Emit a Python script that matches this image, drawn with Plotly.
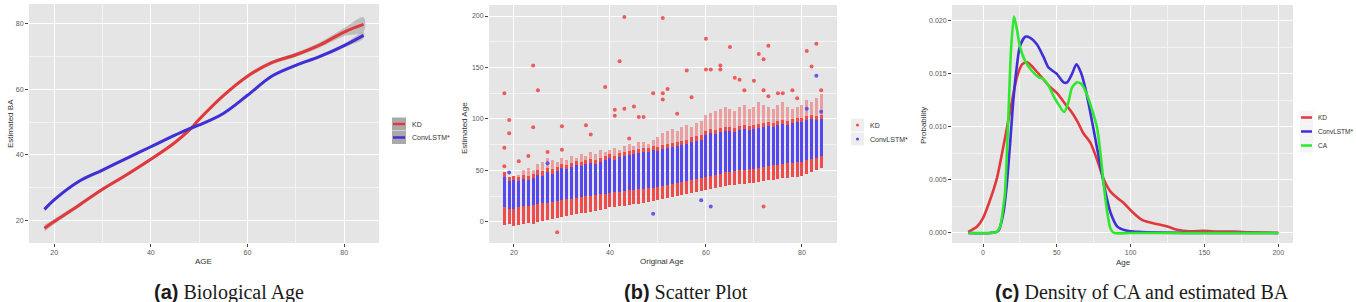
import plotly.graph_objects as go

W, H = 1356, 302

# ---------------- Panel (a): Biological Age (smoothed curves) ----------------
a_age = [18, 20, 25, 30, 35, 40, 45, 48, 50, 55, 60, 65, 70, 75, 80, 84]
a_kd = [17.8, 19.8, 24.6, 29.6, 34.0, 38.7, 43.8, 47.6, 50.8, 58.0, 63.9, 68.0, 70.4, 73.4, 77.3, 79.6]
a_kd_se = [1.0, 0.8, 0.6, 0.5, 0.5, 0.5, 0.5, 0.5, 0.5, 0.5, 0.6, 0.6, 0.7, 0.8, 1.2, 2.2]
a_conv = [23.5, 26.4, 31.9, 35.4, 39.0, 42.5, 46.0, 48.0, 49.1, 52.6, 58.1, 63.9, 67.2, 69.9, 73.2, 76.3]
a_conv_se = [0.6, 0.5, 0.4, 0.4, 0.4, 0.4, 0.4, 0.4, 0.4, 0.4, 0.4, 0.4, 0.4, 0.5, 0.6, 0.9]

# ---------------- Panel (b): Scatter plot (dense columns per age) ----------------
b_age = list(range(18, 85))
b_blue_lo = [14, 13, 13, 14, 15, 15, 16, 17, 18, 18, 19, 20, 21, 22, 22, 23, 24, 25, 25, 26, 27, 27,
             28, 29, 29, 30, 31, 31, 32, 32, 33, 33, 34, 35, 36, 37, 38, 39, 40, 41, 42, 43, 44, 45,
             46, 47, 48, 48, 49, 50, 50, 51, 51, 52, 53, 54, 55, 55, 56, 57, 57, 58, 58, 60, 61, 62, 64]
b_blue_hi = [44, 40, 41, 40, 42, 41, 43, 46, 45, 48, 47, 49, 52, 51, 53, 55, 54, 56, 57, 56, 58, 60,
             62, 60, 63, 64, 65, 66, 67, 68, 68, 70, 69, 71, 72, 73, 74, 75, 76, 78, 79, 80, 84, 86,
             85, 87, 88, 88, 87, 89, 90, 89, 90, 91, 92, 93, 92, 94, 95, 94, 96, 97, 97, 99, 100, 99, 100]
b_red_lo = [-3, -2, -4, -3, -2, -1, -2, 0, 1, 2, 3, 4, 5, 6, 7, 8, 9, 9, 10, 11, 12, 13,
            14, 14, 15, 15, 16, 17, 17, 18, 19, 20, 21, 22, 23, 24, 25, 26, 27, 28, 29, 30, 31, 32,
            33, 34, 35, 36, 36, 37, 37, 38, 38, 39, 40, 41, 41, 42, 43, 43, 44, 44, 45, 47, 48, 50, 52]
b_red_hi = [48, 42, 44, 46, 50, 52, 50, 56, 58, 62, 60, 58, 62, 60, 64, 62, 66, 64, 68, 66, 70, 68,
            70, 72, 70, 74, 76, 74, 78, 78, 76, 80, 82, 86, 88, 90, 88, 92, 94, 92, 96, 98, 104, 106,
            108, 110, 112, 110, 108, 112, 114, 110, 112, 116, 114, 112, 110, 114, 116, 112, 110, 112, 114, 118, 116, 120, 124]
b_red_out_x = [18, 19, 19, 18, 24, 25, 24, 30, 35, 36, 39, 42, 43, 51, 41, 41, 43, 45, 46, 47, 44, 49,
               51, 51, 52, 54, 56, 57, 60, 60, 61, 63, 63, 65, 66, 67, 68, 70, 71, 72, 73, 72, 73, 75,
               76, 78, 79, 81, 82, 83, 84, 29, 72, 18, 21, 23, 27, 30]
b_red_out_y = [125, 99, 86, 72, 152, 128, 92, 93, 94, 85, 131, 156, 199, 198, 109, 103, 110, 112, 102, 102, 81, 125,
               119, 125, 129, 105, 147, 121, 178, 148, 148, 152, 148, 170, 140, 138, 128, 137, 163, 158, 171, 128, 122, 125,
               125, 128, 120, 166, 151, 173, 128, -10, 15, 54, 59, 64, 68, 70]
b_blue_out_x = [49, 59, 61, 83, 84, 81, 19, 27]
b_blue_out_y = [8, 21, 15, 142, 107, 110, 48, 57]

# ---------------- Panel (c): Density of CA and estimated BA ----------------
c_kd_x = [-10, -4, 0, 4, 9.5, 14, 18.5, 23, 26.5, 30, 34, 39, 44.5, 50, 56, 60, 64, 68, 72.8, 77.3,
          82, 86.4, 91, 95.5, 101, 108, 116, 125, 131.5, 140, 150, 158.6, 170, 181, 200]
c_kd_y = [0.0001, 0.0006, 0.0014, 0.0028, 0.0052, 0.0083, 0.0116, 0.0147, 0.0159, 0.0161, 0.0156, 0.0148,
          0.0139, 0.0132, 0.0121, 0.0114, 0.0105, 0.0094, 0.0085, 0.0069, 0.0050, 0.0039, 0.0033, 0.0028,
          0.0020, 0.0012, 0.0009, 0.0006, 0.0003, 0.00016, 0.0002, 0.00013, 0.00012, 0.00006, 0.0]
c_conv_x = [-10, 5, 10.4, 13.8, 16, 18.4, 20.6, 23, 25, 28.6, 32, 36.5, 41, 44.4, 50, 54.6, 57, 60.3,
            63.3, 66.4, 69.4, 72.8, 76.2, 79.6, 83, 86.4, 91, 97.7, 105, 120, 150, 200]
c_conv_y = [0, 0, 0.0002, 0.0019, 0.0044, 0.0085, 0.0126, 0.0158, 0.0176, 0.0185, 0.0184, 0.0178, 0.0166,
            0.0156, 0.0150, 0.0142, 0.0142, 0.0150, 0.0159, 0.0151, 0.0136, 0.0113, 0.0088, 0.0063, 0.0038,
            0.0019, 0.0006, 0.0002, 0.0001, 0.00003, 0, 0]
c_ca_x = [-10, 5, 9.3, 11.6, 13.8, 14.9, 17.2, 19, 21, 23, 25, 28.6, 33, 37.6, 41, 44.4, 47.8, 51.2, 55,
          57.8, 60.3, 63.7, 67, 70.5, 73.9, 77.3, 79.6, 81.9, 84.2, 86.4, 88.7, 100, 150, 200]
c_ca_y = [0, 0, 0.0001, 0.0006, 0.0025, 0.0038, 0.0110, 0.0173, 0.0204, 0.0192, 0.0176, 0.0162, 0.0153,
          0.0147, 0.0145, 0.0139, 0.0129, 0.0121, 0.0114, 0.0123, 0.0137, 0.0142, 0.0140, 0.0130, 0.0116,
          0.0099, 0.0075, 0.0044, 0.0019, 0.0004, 0.0, 0, 0, 0]

series_names = ["KD", "ConvLSTM*", "CA"]

RED = "#E2383C"
BLUE = "#3F2FD6"
GREEN = "#2EE82E"
PT_RED = "#EE4B4B"
PT_BLUE = "#5548EE"
BAND = "rgba(140,140,140,0.45)"


def px(x):
    return x / W


def py(y):
    return 1 - y / H


fig = go.Figure()

# ----- panel (a)
for ys, se, col, name in [(a_kd, a_kd_se, RED, series_names[0]), (a_conv, a_conv_se, BLUE, series_names[1])]:
    upper = [v + s for v, s in zip(ys, se)]
    lower = [v - s for v, s in zip(ys, se)]
    fig.add_trace(go.Scatter(x=a_age + a_age[::-1], y=upper + lower[::-1], fill="toself",
                             fillcolor=BAND, line=dict(width=0, shape="spline"), mode="lines",
                             hoverinfo="skip", showlegend=False, xaxis="x", yaxis="y"))
for ys, col, name in [(a_kd, RED, series_names[0]), (a_conv, BLUE, series_names[1])]:
    fig.add_trace(go.Scatter(x=a_age, y=ys, mode="lines", name=name,
                             line=dict(color=col, width=3, shape="spline", smoothing=1.0),
                             showlegend=False, xaxis="x", yaxis="y"))

# ----- panel (b)
red_dense_hi = [max(bh + 4, rl) for bh, rl in zip(b_blue_hi, b_red_lo)]
fig.add_trace(go.Bar(x=b_age, base=b_red_lo, y=[h - l for h, l in zip(red_dense_hi, b_red_lo)],
                     width=0.62, marker=dict(color=PT_RED, line=dict(width=0)), showlegend=False,
                     name="KD", xaxis="x2", yaxis="y2"))
fig.add_trace(go.Bar(x=b_age, base=red_dense_hi, y=[max(h - l, 0) for h, l in zip(b_red_hi, red_dense_hi)],
                     width=0.62, marker=dict(color=PT_RED, line=dict(width=0)), opacity=0.45,
                     showlegend=False, name="KD", xaxis="x2", yaxis="y2"))
fig.add_trace(go.Bar(x=b_age, base=b_blue_lo, y=[h - l for h, l in zip(b_blue_hi, b_blue_lo)],
                     width=0.62, marker=dict(color=PT_BLUE, line=dict(width=0)), showlegend=False,
                     name="ConvLSTM*", xaxis="x2", yaxis="y2"))
fig.add_trace(go.Scatter(x=b_red_out_x, y=b_red_out_y, mode="markers", name="KD",
                         marker=dict(color=PT_RED, size=4, opacity=0.9), showlegend=False,
                         xaxis="x2", yaxis="y2"))
fig.add_trace(go.Scatter(x=b_blue_out_x, y=b_blue_out_y, mode="markers", name="ConvLSTM*",
                         marker=dict(color=PT_BLUE, size=4, opacity=0.9), showlegend=False,
                         xaxis="x2", yaxis="y2"))

# ----- panel (c)
for xs, ys, col, name in [(c_kd_x, c_kd_y, RED, series_names[0]),
                          (c_conv_x, c_conv_y, BLUE, series_names[1]),
                          (c_ca_x, c_ca_y, GREEN, series_names[2])]:
    fig.add_trace(go.Scatter(x=xs, y=ys, mode="lines", name=name,
                             line=dict(color=col, width=2.6, shape="spline", smoothing=0.7),
                             showlegend=False, xaxis="x3", yaxis="y3"))

TICKFONT = dict(family="Liberation Sans, Arial", size=7, color="#5a5a5a")


def axis(domain, rng, dtick, minor_dtick, anchor, fmt=None):
    d = dict(domain=domain, range=rng, dtick=dtick, tick0=0, anchor=anchor,
             showgrid=True, gridcolor="#FFFFFF", gridwidth=1.2, zeroline=False, showline=False,
             ticks="outside", ticklen=3, tickwidth=1, tickcolor="#444", tickfont=TICKFONT,
             minor=dict(dtick=minor_dtick, tick0=0, showgrid=True, gridcolor="#F3F3F3", gridwidth=0.6, ticks=""))
    if fmt:
        d["tickformat"] = fmt
    return d


ydom = [py(243), py(5)]
fig.update_layout(
    width=W, height=H, margin=dict(l=0, r=0, t=0, b=0),
    paper_bgcolor="white", plot_bgcolor="#E5E5E5",
    barmode="overlay", bargap=0,
    xaxis=axis([px(29), px(379)], [14.8, 87.2], 20, 10, "y"),
    yaxis=axis([py(243), py(4)], [13.3, 85.8], 20, 10, "x"),
    xaxis2=axis([px(489), px(837)], [14.8, 87.3], 20, 10, "y2"),
    yaxis2=axis(ydom, [-20.5, 210.7], 50, 25, "x2"),
    xaxis3=axis([px(952), px(1293)], [-21, 210], 50, 25, "y3"),
    yaxis3=axis(ydom, [-0.00095, 0.0215], 0.005, 0.0025, "x3", fmt=".3f"),
)

# ----- axis titles and captions
TITLEFONT = dict(family="Liberation Sans, Arial", size=8, color="#333")
ann = []
for txt, x, y, ang in [("AGE", 203, 261, 0), ("Original Age", 662, 261, 0), ("Age", 1123, 262, 0),
                       ("Estimated BA", 10, 124, -90), ("Estimated Age", 465, 128, -90),
                       ("Probability", 923, 126, -90)]:
    ann.append(dict(text=txt, x=px(x), y=py(y), xref="paper", yref="paper", showarrow=False,
                    textangle=ang, font=TITLEFONT, xanchor="center", yanchor="middle"))

CAPFONT = dict(family="Liberation Serif, Times New Roman", size=20, color="#1a1a1a")
for lab, txt, x in [("(a)", "Biological Age", 229), ("(b)", "Scatter Plot", 686),
                    ("(c)", "Density of CA and estimated BA", 1142)]:
    ann.append(dict(text='<b><span style="font-family:Liberation Sans, Arial">' + lab + "</span></b> " + txt,
                    x=px(x), y=py(292), xref="paper", yref="paper", showarrow=False,
                    font=CAPFONT, xanchor="center", yanchor="middle"))

# ----- manual legends (ggplot style)
LEGFONT = dict(family="Liberation Sans, Arial", size=7, color="#333")
shapes = []
# (a)
for i, (name, col) in enumerate([(series_names[0], RED), (series_names[1], BLUE)]):
    yc = 124 + 13.5 * i
    shapes.append(dict(type="rect", xref="paper", yref="paper", x0=px(392), x1=px(406),
                       y0=py(yc + 6.5), y1=py(yc - 6.5), fillcolor="#A9A9A9", line=dict(width=0)))
    shapes.append(dict(type="line", xref="paper", yref="paper", x0=px(393), x1=px(405),
                       y0=py(yc), y1=py(yc), line=dict(color=col, width=2.5)))
    ann.append(dict(text=name, x=px(410), y=py(yc), xref="paper", yref="paper", showarrow=False,
                    font=LEGFONT, xanchor="left", yanchor="middle"))
# (b)
for i, (name, col) in enumerate([(series_names[0], PT_RED), (series_names[1], PT_BLUE)]):
    yc = 125 + 14 * i
    shapes.append(dict(type="rect", xref="paper", yref="paper", x0=px(851), x1=px(864),
                       y0=py(yc + 6.5), y1=py(yc - 6.5), fillcolor="#EEEEEE", line=dict(width=0)))
    shapes.append(dict(type="circle", xref="paper", yref="paper", x0=px(856), x1=px(859),
                       y0=py(yc + 1.5), y1=py(yc - 1.5), fillcolor=col, line=dict(width=0)))
    ann.append(dict(text=name, x=px(868), y=py(yc), xref="paper", yref="paper", showarrow=False,
                    font=LEGFONT, xanchor="left", yanchor="middle"))
# (c)
for i, (name, col) in enumerate([(series_names[0], RED), (series_names[1], BLUE), (series_names[2], GREEN)]):
    yc = 117.5 + 14 * i
    shapes.append(dict(type="rect", xref="paper", yref="paper", x0=px(1300), x1=px(1313),
                       y0=py(yc + 7), y1=py(yc - 7), fillcolor="#F4F4F4", line=dict(width=0)))
    shapes.append(dict(type="line", xref="paper", yref="paper", x0=px(1301), x1=px(1312),
                       y0=py(yc), y1=py(yc), line=dict(color=col, width=2.5)))
    ann.append(dict(text=name, x=px(1316), y=py(yc), xref="paper", yref="paper", showarrow=False,
                    font=dict(family="Liberation Sans, Arial", size=6.5, color="#333"),
                    xanchor="left", yanchor="middle"))

fig.update_layout(annotations=ann, shapes=shapes)

fig.write_html("out.html")
